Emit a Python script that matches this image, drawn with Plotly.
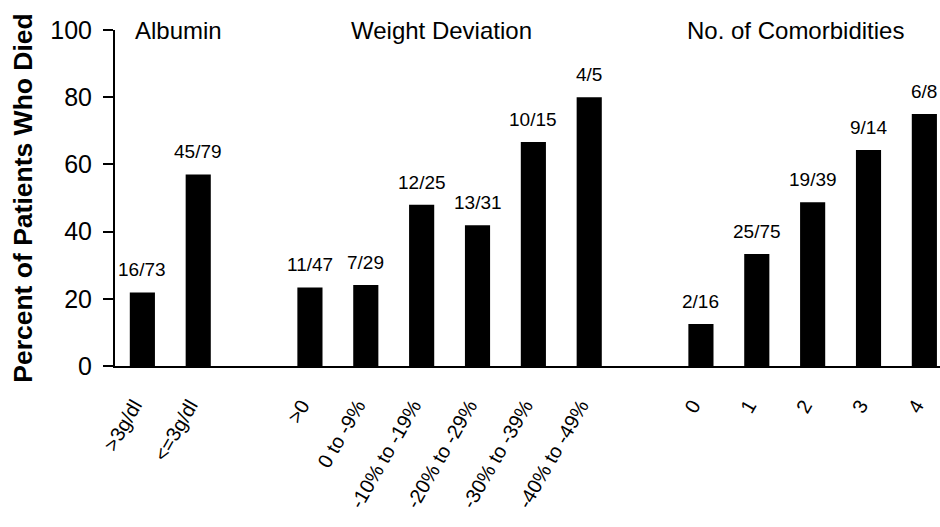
import plotly.graph_objects as go

# ---- data ----
albumin_labels = [">3g/dl", "<=3g/dl"]
albumin_values = [21.9, 57.0]
albumin_counts = ["16/73", "45/79"]

weight_labels = [">0", "0 to -9%", "-10% to -19%", "-20% to -29%", "-30% to -39%", "-40% to -49%"]
weight_values = [23.4, 24.1, 48.0, 41.9, 66.7, 80.0]
weight_counts = ["11/47", "7/29", "12/25", "13/31", "10/15", "4/5"]

comorb_labels = ["0", "1", "2", "3", "4"]
comorb_values = [12.5, 33.3, 48.7, 64.3, 75.0]
comorb_counts = ["2/16", "25/75", "19/39", "9/14", "6/8"]

group_titles = ["Albumin", "Weight Deviation", "No. of Comorbidities"]
y_ticks = [0, 20, 40, 60, 80, 100]

# ---- build positions (one empty slot between groups) ----
groups = [
    (albumin_labels, albumin_values, albumin_counts),
    (weight_labels, weight_values, weight_counts),
    (comorb_labels, comorb_values, comorb_counts),
]
xs, ys, labels, counts = [], [], [], []
pos = 0
for lab, val, cnt in groups:
    for l, v, c in zip(lab, val, cnt):
        xs.append(pos)
        ys.append(v)
        labels.append(l)
        counts.append(c)
        pos += 1
    pos += 1

FONT = "Liberation Sans, Arial, Helvetica, sans-serif"

fig = go.Figure()
fig.add_trace(go.Bar(
    x=xs, y=ys, width=0.45,
    marker=dict(color="black", line=dict(width=0)),
    hoverinfo="skip",
))

for x, y, c in zip(xs, ys, counts):
    fig.add_annotation(x=x, y=y, text=c, showarrow=False, yanchor="bottom",
                       yshift=10, font=dict(size=19, color="black", family=FONT))

title_x = [0.64, 5.36, 11.7]
for tx, t in zip(title_x, group_titles):
    fig.add_annotation(x=tx, y=100, text=t, showarrow=False, yanchor="middle",
                       font=dict(size=24, color="black", family=FONT))

# rotated labels end exactly at the bar centre in the reference
label_shift = 0.15

fig.update_layout(
    width=940, height=527,
    margin=dict(l=115, r=0, t=30, b=161, autoexpand=False),
    paper_bgcolor="white", plot_bgcolor="white",
    showlegend=False,
    font=dict(family=FONT, color="black"),
    xaxis=dict(
        range=[-0.49, 14.28],
        tickmode="array", tickvals=[x - label_shift for x in xs], ticktext=labels,
        tickangle=-60, ticks="", showgrid=False, zeroline=False,
        showline=True, linecolor="black", linewidth=2,
        tickfont=dict(size=20, family=FONT, color="black"),
        ticklabelstandoff=18, automargin=False,
    ),
    yaxis=dict(
        range=[0, 100], tickmode="array", tickvals=y_ticks,
        ticks="outside", ticklen=10, tickwidth=2, tickcolor="black",
        showgrid=False, zeroline=False,
        showline=True, linecolor="black", linewidth=2,
        tickfont=dict(size=25, family=FONT, color="black"),
        ticklabelstandoff=6,
        automargin=False,
        title=dict(text="<b>Percent of Patients Who Died</b>",
                   font=dict(size=26.5, family=FONT, color="black"), standoff=10),
    ),
)

fig.write_html("out.html",
               config={"displayModeBar": False},
               post_script="document.body.style.margin='0';document.body.style.overflow='hidden';")
